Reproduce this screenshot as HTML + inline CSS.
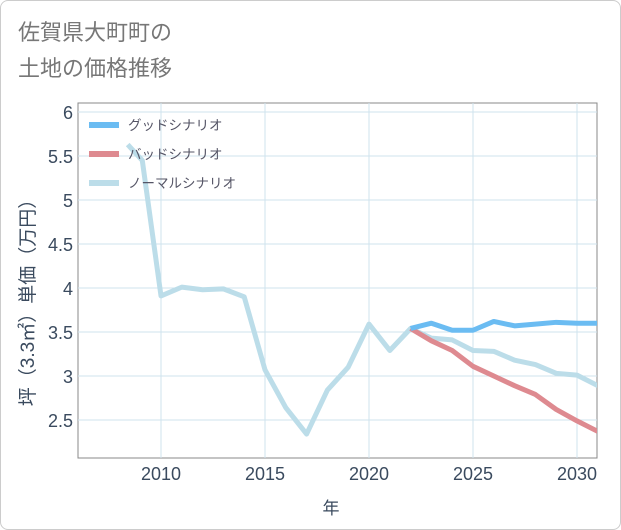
<!DOCTYPE html>
<html><head><meta charset="utf-8"><style>
body{margin:0;background:#fff;font-family:"Liberation Sans","Noto Sans CJK JP",sans-serif}
#card{position:absolute;left:0;top:0;width:619px;height:528px;border:1px solid #ccc;border-radius:8px;background:#fff}
</style></head><body>
<div id="card">
<svg id="chart" width="621" height="530" style="position:absolute;left:-1px;top:-1px">
<text x="18" y="40" font-size="22" fill="#777">佐賀県大町町の</text>
<text x="18" y="76" font-size="22" fill="#777">土地の価格推移</text>
<g id="grid"></g><g id="series"></g><g id="legend"></g>
<text x="331" y="514" font-size="17" fill="#3a4a5e" text-anchor="middle">年</text>
<text transform="translate(34,298) rotate(-90)" font-size="19" fill="#3a4a5e" text-anchor="middle">坪（3.3㎡）単価（万円）</text>
</svg></div>
<script>
const years=[2008.4,2009.1,2010,2011,2012,2013,2014,2015,2016,2017,2018,2019,2020,2021,2022,2023,2024,2025,2026,2027,2028,2029,2030,2031];
const normal=[5.63,5.45,3.91,4.01,3.98,3.99,3.9,3.07,2.64,2.34,2.84,3.1,3.59,3.29,3.54,3.43,3.41,3.29,3.28,3.18,3.13,3.03,3.01,2.89];
const fYears=[2022,2023,2024,2025,2026,2027,2028,2029,2030,2031];
const good=[3.54,3.6,3.52,3.52,3.62,3.57,3.59,3.61,3.6,3.6];
const bad=[3.54,3.4,3.29,3.11,3.0,2.89,2.79,2.62,2.49,2.37];
const xTicks=[2010,2015,2020,2025,2030];
const yTicks=[2.5,3,3.5,4,4.5,5,5.5,6];
const L=78,R=597,T=103,B=458;
const x=v=>161+(v-2010)*20.8;
const y=v=>112+(6-v)*88;
const NS='http://www.w3.org/2000/svg';
function mk(t,a,p){const e=document.createElementNS(NS,t);for(const k in a)e.setAttribute(k,a[k]);p.appendChild(e);return e;}
const g=document.getElementById('grid');
const frame=mk('rect',{x:L,y:T,width:R-L,height:B-T,fill:'none',stroke:'#888','stroke-width':1},g);


xTicks.forEach(v=>{const l=mk('line',{x1:x(v),x2:x(v),y1:T,y2:B,stroke:'#cfe3ee'},g);


const t=mk('text',{x:x(v),y:480,'font-size':18,fill:'#3a4a5e','text-anchor':'middle'},g);t.textContent=v;

});
yTicks.forEach(v=>{const l=mk('line',{x1:L,x2:R,y1:y(v),y2:y(v),stroke:'#cfe3ee'},g);


const t=mk('text',{x:73,y:y(v)+7,'font-size':18,fill:'#3a4a5e','text-anchor':'end'},g);t.textContent=v;

});
const s=document.getElementById('series');
const cp=mk('clipPath',{id:'cp'},s);mk('rect',{x:L,y:T,width:R-L,height:B-T},cp);
function line(xs,ys,c,n){const p=mk('polyline',{points:xs.map((v,i)=>x(v)+','+y(ys[i])).join(' '),fill:'none',stroke:c,'stroke-width':5,'stroke-linejoin':'round','clip-path':'url(#cp)'},s);

}
line(years,normal,'#bcdde9','normal-scenario-line');
line(fYears,bad,'#de8a90','bad-scenario-line');
line(fYears,good,'#6bbcf2','good-scenario-line');
const lg=document.getElementById('legend');
[['グッドシナリオ','#6bbcf2'],['バッドシナリオ','#de8a90'],['ノーマルシナリオ','#bcdde9']].forEach((d,i)=>{
const yy=125+i*29;
const r=mk('rect',{x:89,y:yy-3,width:30,height:6,fill:d[1]},lg);


const t=mk('text',{x:128,y:yy+5,'font-size':13.5,fill:'#556'},lg);t.textContent=d[0];

});
</script>
</body></html>
